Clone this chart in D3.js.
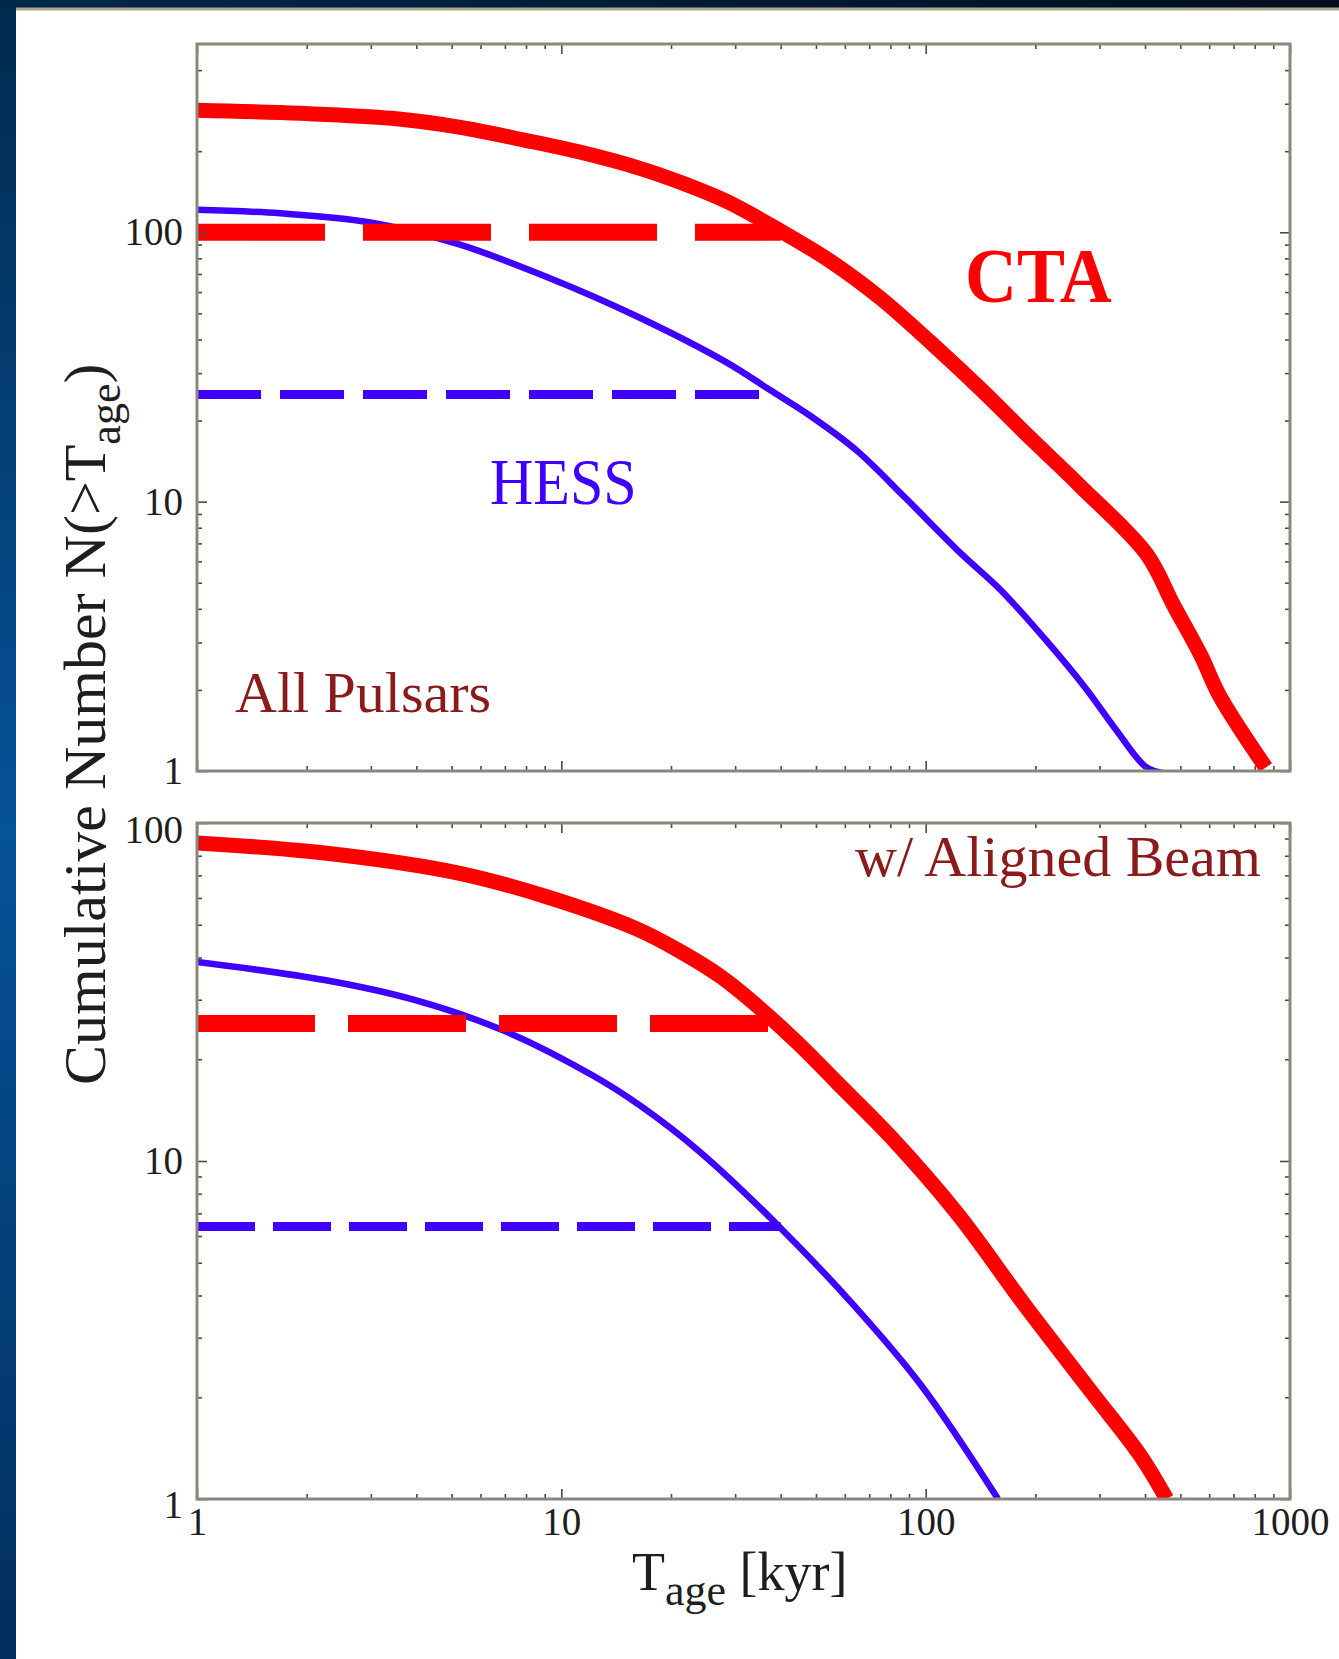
<!DOCTYPE html>
<html><head><meta charset="utf-8">
<script src="https://cdn.jsdelivr.net/npm/d3@7"></script>
<style>html,body{margin:0;padding:0;background:#fff;} svg{display:block;}</style>
</head><body>
<svg id="chart" width="1339" height="1659"></svg>
<script>
// ---------------- data ----------------
const xMajorTicks = [1, 10, 100, 1000];
const xMinorTicks = [2,3,4,5,6,7,8,9,20,30,40,50,60,70,80,90,200,300,400,500,600,700,800,900];
const yMajorTicks = [1, 10, 100];
const yMinorTicksTop = [2,3,4,5,6,7,8,9,20,30,40,50,60,70,80,90,200,300,400];
const yMinorTicksBottom = [2,3,4,5,6,7,8,9,20,30,40,50,60,70,80,90];

// Top panel: all pulsars
const ageCtaAll = [1, 1.92, 3.42, 5.28, 7.97, 11.3, 16.1, 21.2, 28.4, 39.7, 54.8, 75.2, 103, 141.5, 194, 266, 404, 479, 569, 641, 858];
const numCtaAll = [283.6, 276.4, 264.9, 245.2, 219.5, 198.1, 174.2, 153.3, 130.3, 101.7, 78.1, 56.9, 39.1, 26.2, 17.2, 11.4, 6.39, 4.13, 2.69, 1.90, 1.03];
const ageHessAll = [1, 1.69, 2.97, 5.22, 9.16, 16.1, 28.4, 37.5, 48.3, 64.6, 87.5, 124.7, 160.6, 214.7, 274.8, 332.2, 404.2, 455.7];
const numHessAll = [121.2, 117.6, 108.9, 90.3, 68.1, 48.8, 32.9, 25.9, 20.8, 15.5, 10.4, 6.44, 4.70, 3.04, 2.03, 1.43, 1.03, 0.98];
const ctaAllLimitAge = [1, 40];
const ctaAllLimitNum = [100, 100];
const hessAllLimitAge = [1, 35];
const hessAllLimitNum = [25, 25];

// Bottom panel: with aligned beam
const ageCtaBeam = [1, 2.24, 5.22, 9.16, 16.1, 21.2, 27.4, 35.2, 45.4, 57.3, 80.1, 122.4, 186.9, 285.5, 389.1, 458.5];
const numCtaBeam = [87.3, 81.5, 71.1, 60.4, 48.6, 41.7, 35.1, 28.2, 21.9, 17.0, 11.8, 6.97, 3.75, 2.07, 1.34, 1.0];
const ageHessBeam = [1, 2.24, 3.93, 6.89, 12.2, 16.5, 24.1, 39.7, 63.8, 97.5, 158];
const numHessBeam = [38.8, 34.3, 30.0, 24.4, 17.9, 14.55, 10.6, 6.38, 3.72, 2.16, 1.0];
const ctaBeamLimitAge = [1, 40];
const ctaBeamLimitNum = [25.5, 25.5];
const hessBeamLimitAge = [1, 40];
const hessBeamLimitNum = [6.4, 6.4];

// ---------------- layout ----------------
const W = 1339, H = 1659;
const svg = d3.select('#chart');
const SERIF = "'Liberation Serif','Times New Roman',Times,serif";
const RED = '#ff0000', BLUE = '#4000ff', DARKRED = '#8b1a1a';
const FRAME = '#8a877b', TICK = '#4a4a4a';

const defs = svg.append('defs');
const lg = defs.append('linearGradient').attr('id','leftStrip').attr('x1',0).attr('y1',0).attr('x2',0).attr('y2',1);
lg.append('stop').attr('offset','0%').attr('stop-color','#012a4e');
lg.append('stop').attr('offset','50%').attr('stop-color','#05539b');
lg.append('stop').attr('offset','100%').attr('stop-color','#012e5c');
const tg = defs.append('linearGradient').attr('id','topBand').attr('x1',0).attr('y1',0).attr('x2',1).attr('y2',0);
tg.append('stop').attr('offset','0%').attr('stop-color','#00284d');
tg.append('stop').attr('offset','100%').attr('stop-color','#000f1f');

svg.append('rect').attr('width',W).attr('height',H).attr('fill','#ffffff');
svg.append('rect').attr('x',0).attr('y',0).attr('width',16).attr('height',H).attr('fill','url(#leftStrip)');
svg.append('rect').attr('x',0).attr('y',0).attr('width',W).attr('height',8).attr('fill','url(#topBand)');
svg.append('rect').attr('x',16).attr('y',7.5).attr('width',W-16).attr('height',3).attr('fill','#aaa78a');

const xLeft = 197, xRight = 1290;
const x = d3.scaleLog().domain([1, 1000]).range([xLeft, xRight]);

const panels = [
  { id:'top', top:44, bottom:771, ymax:500, yMinor:yMinorTicksTop, xLabels:false,
    curves:[
      {age:ageCtaAll, num:numCtaAll, color:RED, width:15, dash:null},
      {age:ageHessAll, num:numHessAll, color:BLUE, width:6.5, dash:null},
      {age:ctaAllLimitAge, num:ctaAllLimitNum, color:RED, width:17, dash:'128,38'},
      {age:hessAllLimitAge, num:hessAllLimitNum, color:BLUE, width:9, dash:'64,19'}
    ], labelShift:{} },
  { id:'bottom', top:823, bottom:1499, ymax:100, yMinor:yMinorTicksBottom, xLabels:true,
    curves:[
      {age:ageCtaBeam, num:numCtaBeam, color:RED, width:15, dash:null},
      {age:ageHessBeam, num:numHessBeam, color:BLUE, width:6.5, dash:null},
      {age:ctaBeamLimitAge, num:ctaBeamLimitNum, color:RED, width:17, dash:'118,33'},
      {age:hessBeamLimitAge, num:hessBeamLimitNum, color:BLUE, width:9, dash:'58,18'}
    ], labelShift:{1:6, 100:7} }
];

panels.forEach(p => {
  const y = d3.scaleLog().domain([1, p.ymax]).range([p.bottom, p.top]);
  const g = svg.append('g');
  defs.append('clipPath').attr('id','clip-'+p.id).append('rect')
    .attr('x',xLeft).attr('y',p.top).attr('width',xRight-xLeft).attr('height',p.bottom-p.top);
  const lines = g.append('g').attr('clip-path','url(#clip-'+p.id+')');
  p.curves.forEach(c => {
    const pts = c.age.map((a,i)=>[a, c.num[i]]);
    const line = d3.line().x(d=>x(d[0])).y(d=>y(d[1]))
      .curve(c.dash ? d3.curveLinear : d3.curveCatmullRom.alpha(0.5));
    lines.append('path').attr('d', line(pts)).attr('fill','none')
      .attr('stroke', c.color).attr('stroke-width', c.width)
      .attr('stroke-dasharray', c.dash).attr('stroke-linejoin','round').attr('stroke-linecap','butt');
  });

  // ticks (inward), all four sides
  const addAxis = (axis, tx, ty) => {
    const a = g.append('g').attr('transform',`translate(${tx},${ty})`).call(axis);
    a.select('.domain').remove();
    a.selectAll('.tick line').attr('stroke',TICK).attr('stroke-width',1.6);
    return a;
  };
  addAxis(d3.axisBottom(x).tickValues(xMinorTicks).tickSize(-5).tickFormat(''), 0, p.bottom);
  addAxis(d3.axisTop(x).tickValues(xMinorTicks).tickSize(-5).tickFormat(''), 0, p.top);
  addAxis(d3.axisTop(x).tickValues(xMajorTicks).tickSize(-10).tickFormat(''), 0, p.top);
  const xb = addAxis(d3.axisBottom(x).tickValues(xMajorTicks).tickSize(-10).tickPadding(8)
      .tickFormat(p.xLabels ? d3.format('d') : ''), 0, p.bottom);
  xb.selectAll('text').attr('font-family',SERIF).attr('font-size',39).attr('fill','#1e1e1e');

  addAxis(d3.axisLeft(y).tickValues(p.yMinor).tickSize(-5).tickFormat(''), xLeft, 0);
  addAxis(d3.axisRight(y).tickValues(p.yMinor).tickSize(-5).tickFormat(''), xRight, 0);
  addAxis(d3.axisRight(y).tickValues(yMajorTicks).tickSize(-10).tickFormat(''), xRight, 0);
  const yl = addAxis(d3.axisLeft(y).tickValues(yMajorTicks).tickSize(-10).tickPadding(14)
      .tickFormat(d3.format('d')), xLeft, 0);
  yl.selectAll('text').attr('font-family',SERIF).attr('font-size',39).attr('fill','#1e1e1e')
    .attr('transform', d => `translate(0,${p.labelShift[d] || 0})`);

  g.append('rect').attr('x',xLeft).attr('y',p.top).attr('width',xRight-xLeft).attr('height',p.bottom-p.top)
    .attr('fill','none').attr('stroke',FRAME).attr('stroke-width',3);
});

// annotations
const ann = (txt, xx, yy, size, color, weight, sy) =>
  svg.append('text').attr('transform',`translate(${xx},${yy}) scale(1,${sy||1})`)
    .attr('font-family',SERIF).attr('font-size',size)
    .attr('font-weight',weight||'normal').attr('fill',color).text(txt);
ann('CTA', 965, 302, 72, RED, 'bold', 1.1);
ann('HESS', 490, 504, 60, BLUE, 'normal', 1.08);
ann('All Pulsars', 235, 712, 58, DARKRED);
ann('w/ Aligned Beam', 855, 876, 58, DARKRED);

// axis titles
const xt = svg.append('text').attr('x',632).attr('y',1590).attr('font-family',SERIF).attr('font-size',54).attr('fill','#1e1e1e');
xt.append('tspan').text('T');
xt.append('tspan').attr('dy',15).attr('font-size',44).text('age');
xt.append('tspan').attr('dy',-15).text(' [kyr]');

const yt = svg.append('text').attr('transform','translate(105,1085) rotate(-90)')
  .attr('font-family',SERIF).attr('font-size',60).attr('fill','#1e1e1e');
yt.append('tspan').text('Cumulative Number N(>T');
yt.append('tspan').attr('dy',15).attr('font-size',44).text('age');
yt.append('tspan').attr('dy',-15).text(')');
</script>
</body></html>
